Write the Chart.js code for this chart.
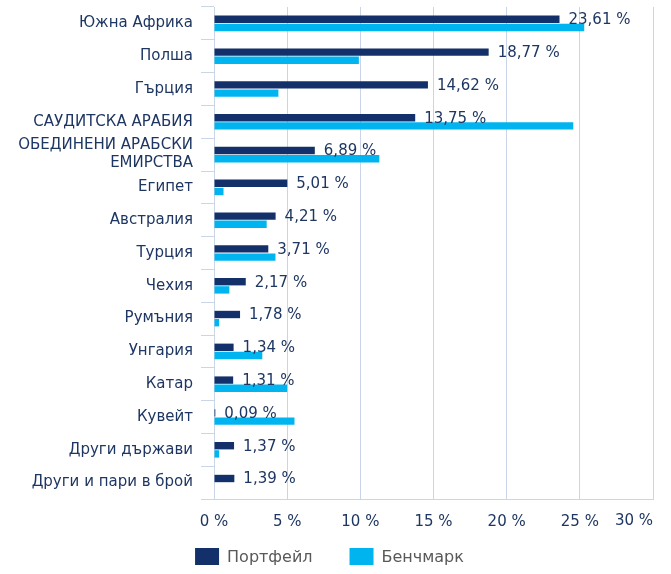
<!DOCTYPE html>
<html><head><meta charset="utf-8">
<script src="https://cdn.jsdelivr.net/npm/chart.js@4/dist/chart.umd.min.js"></script>
<style>html,body{margin:0;padding:0;background:#fff;}#wrap{width:671px;height:574px;position:relative;}</style>
</head><body><div id="wrap"><canvas id="c"></canvas></div>
<script>
const categories = ["Южна Африка","Полша","Гърция","САУДИТСКА АРАБИЯ",["ОБЕДИНЕНИ АРАБСКИ","ЕМИРСТВА"],"Египет","Австралия","Турция","Чехия","Румъния","Унгария","Катар","Кувейт","Други държави","Други и пари в брой"];
const portfolio = [23.61,18.77,14.62,13.75,6.89,5.01,4.21,3.71,2.17,1.78,1.34,1.31,0.09,1.37,1.39];
const benchmark = [25.3,9.9,4.4,24.55,11.3,0.65,3.6,4.2,1.05,0.35,3.3,5.0,5.5,0.35,null];
const seriesNames = ["Портфейл","Бенчмарк"];
const xTickValues = [0,5,10,15,20,25,30];

const NAVY = '#14306a', CYAN = '#00b5ef', TEXT = '#1e3662', LEGEND_TEXT = '#595959', GRID = '#cad6e8';
const FONT = '"DejaVu Sans", Verdana, sans-serif';
const fmt = v => v.toFixed(2).replace('.', ',') + ' %';

const overlay = {
  id: 'overlay',
  afterDatasetsDraw(chart) {
    const ctx = chart.ctx;
    const meta = chart.getDatasetMeta(0);
    ctx.save();
    ctx.font = '15px ' + FONT;
    ctx.fillStyle = TEXT;
    ctx.textAlign = 'left';
    ctx.textBaseline = 'middle';
    meta.data.forEach((bar, i) => {
      ctx.fillText(fmt(portfolio[i]), bar.x + 9, bar.y + 1);
    });
    ctx.restore();
  },
  afterDraw(chart) {
    const ctx = chart.ctx;
    const xs = chart.scales.x;
    ctx.save();
    const last = xTickValues[xTickValues.length - 1];
    ctx.font = '15px ' + FONT;
    ctx.fillStyle = TEXT;
    ctx.textAlign = 'right';
    ctx.textBaseline = 'middle';
    ctx.fillText(last + ' %', xs.getPixelForValue(last), chart.chartArea.bottom + 22);
    ctx.font = '16px ' + FONT;
    const colors = [NAVY, CYAN];
    const bw = 24, bh = 17, gap = 8, spacing = 37;
    const widths = seriesNames.map(s => ctx.measureText(s).width);
    const total = widths.reduce((a, w) => a + bw + gap + w, 0) + spacing;
    let x = chart.width / 2 - 6 - total / 2;
    const y = chart.chartArea.bottom + 49;
    seriesNames.forEach((s, i) => {
      ctx.fillStyle = colors[i];
      ctx.fillRect(x, y, bw, bh);
      ctx.fillStyle = LEGEND_TEXT;
      ctx.textAlign = 'left';
      ctx.textBaseline = 'middle';
      ctx.fillText(s, x + bw + gap, y + bh / 2 + 1);
      x += bw + gap + widths[i] + spacing;
    });
    ctx.restore();
  }
};

new Chart(document.getElementById('c'), {
  type: 'bar',
  data: {
    labels: categories,
    datasets: [
      { label: seriesNames[0], data: portfolio, backgroundColor: NAVY, categoryPercentage: 0.5, barPercentage: 0.9 },
      { label: seriesNames[1], data: benchmark, backgroundColor: CYAN, categoryPercentage: 0.5, barPercentage: 0.9 }
    ]
  },
  options: {
    indexAxis: 'y',
    responsive: true,
    maintainAspectRatio: false,
    animation: false,
    devicePixelRatio: 1,
    layout: { padding: { top: 7, right: 18, bottom: 29, left: 0 } },
    plugins: { legend: { display: false }, tooltip: { enabled: false } },
    scales: {
      x: {
        min: 0, max: 30,
        afterFit(scale) { scale.paddingLeft = 0; },
        ticks: {
          stepSize: 5,
          color: TEXT,
          font: { family: FONT, size: 15 },
          padding: 14,
          callback: v => (v === 30 ? '' : v + ' %')
        },
        grid: { color: GRID, drawTicks: false },
        border: { display: true, color: GRID }
      },
      y: {
        afterFit(scale) { scale.width = 214; scale.paddingTop = 0; scale.paddingBottom = 0; },
        ticks: { color: TEXT, font: { family: FONT, size: 15 }, padding: 8, autoSkip: false },
        grid: { drawOnChartArea: false, drawTicks: true, tickLength: 13, color: GRID, offset: true },
        border: { display: true, color: GRID }
      }
    }
  },
  plugins: [overlay]
});
</script>
</body></html>
